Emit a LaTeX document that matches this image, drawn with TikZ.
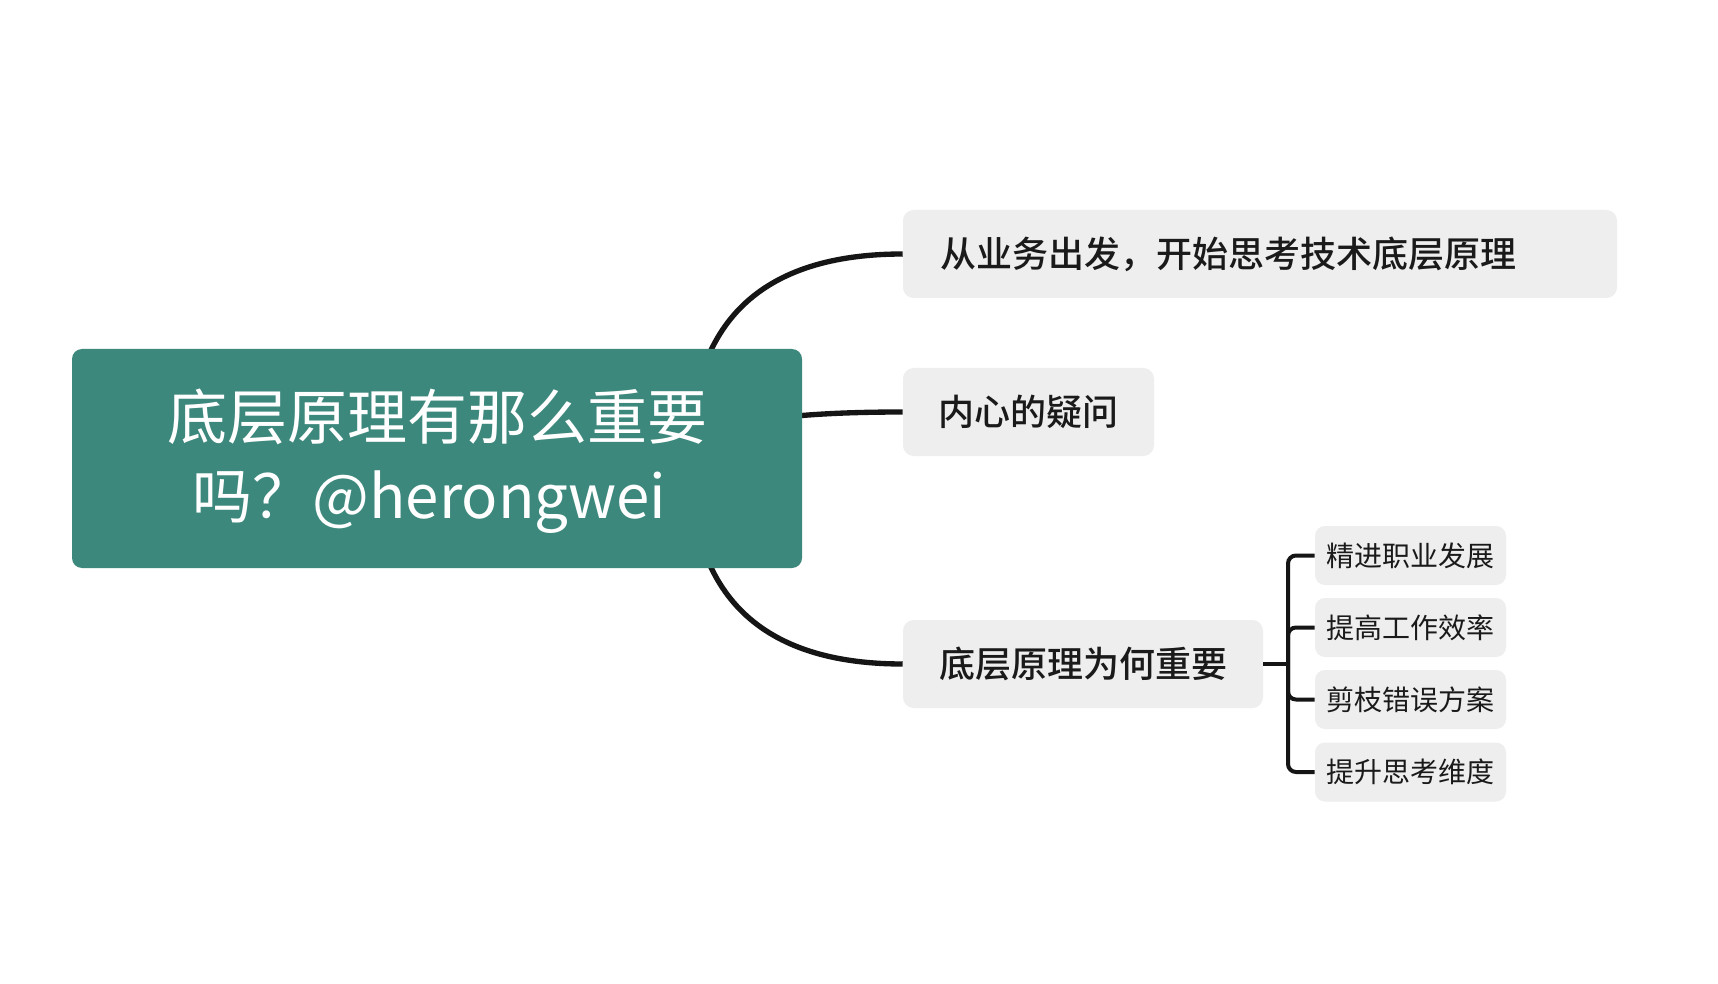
\documentclass[tikz,border=0pt]{standalone}
\usepackage{fontspec}
\setmainfont{Noto Sans CJK SC}
\newfontfamily\cjkmed{Noto Sans CJK SC Medium}
\usetikzlibrary{calc}
\definecolor{mainteal}{RGB}{61,136,124}
\definecolor{nodegray}{RGB}{238,238,238}
\definecolor{linec}{RGB}{21,21,21}
\definecolor{textc}{RGB}{26,26,26}
\begin{document}
\begin{tikzpicture}[x=0.75pt,y=-0.75pt,
  conn/.style={line width=4pt, draw=linec},
  brk/.style={line width=3pt, draw=linec, rounded corners=6pt},
  topic/.style={fill=nodegray, rounded corners=8pt, text=textc, font=\cjkmed\fontsize{27}{32}\selectfont, minimum height=66pt, inner sep=0pt},
  subtopic/.style={fill=nodegray, rounded corners=7.5pt, text=textc, font=\fontsize{21}{25}\selectfont, minimum width=143.25pt, minimum height=44.25pt, inner sep=0pt},
  central/.style={fill=mainteal, rounded corners=7.5pt, minimum width=547.5pt, minimum height=164.25pt, inner sep=0pt},
  centraltext/.style={text=white, align=center, inner sep=0pt, font=\fontsize{45}{59}\selectfont}
]
\fill[white] (0,0) rectangle (1718,984);
\useasboundingbox (0,0) rectangle (1718,984);
\coordinate (hub) at (690,458.5);
\node[topic, minimum width=714*0.75pt, text width=640*0.75pt, align=left] (t1) at (1260,254) {从业务出发，开始思考技术底层原理};
\node[topic, minimum width=251*0.75pt] (t2) at (1028.5,412) {内心的疑问};
\node[topic, minimum width=360*0.75pt] (t3) at (1083,664) {底层原理为何重要};
\node[subtopic] (s1) at (1410.5,555.5) {精进职业发展};
\node[subtopic] (s2) at (1410.5,627.5) {提高工作效率};
\node[subtopic] (s3) at (1410.5,699.5) {剪枝错误方案};
\node[subtopic] (s4) at (1410.5,772) {提升思考维度};
\foreach \t in {t1,t2,t3}{
  \draw[conn] (hub) .. controls ($(hub)!2/3!(hub|-\t.west)$) and ($(\t.west)!2/3!(hub|-\t.west)$) .. (\t.west);
}
\node[central] (main) at (437,458.5) {};
\node[centraltext] (maintext) at ($(main.center)+(0,2.8)$) {底层原理有那么重要\\吗？@herongwei\hspace*{11.5pt}};
\coordinate (j) at (1288,664);
\draw[brk] (t3.east) -- (j);
\foreach \s in {s1,s2,s3,s4}{
  \draw[brk] (j) |- (\s.west);
}
\end{tikzpicture}
\end{document}
